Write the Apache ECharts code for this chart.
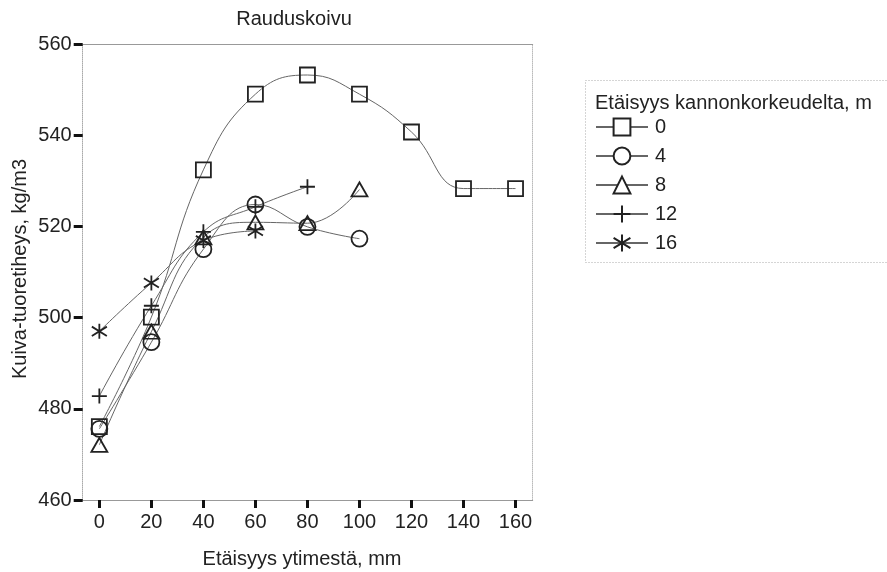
<!DOCTYPE html>
<html>
<head>
<meta charset="utf-8">
<script src="https://cdn.jsdelivr.net/npm/echarts@6/dist/echarts.min.js"></script>
<style>
html,body{margin:0;padding:0;background:#fff;}
#chart{width:887px;height:572px;}
</style>
</head>
<body>
<div id="chart"></div>
<script>
// ---- data ----
const titleText = 'Rauduskoivu';
const xAxisName = 'Etäisyys ytimestä, mm';
const yAxisName = 'Kuiva-tuoretiheys, kg/m3';
const legendTitle = 'Etäisyys kannonkorkeudelta, m';
const xTicks = [0, 20, 40, 60, 80, 100, 120, 140, 160];
const yTicks = [460, 480, 500, 520, 540, 560];
const seriesNames = ['0', '4', '8', '12', '16'];
const xPos = [0, 20, 40, 60, 80, 100, 120, 140, 160];
const h0 = [476.1, 500.1, 532.4, 549.0, 553.2, 549.0, 540.7, 528.3, 528.3];
const h4 = [475.6, 494.6, 515.0, 524.8, 519.9, 517.3];
const h8 = [472.1, 496.9, 517.6, 520.9, 520.7, 528.1];
const h12 = [482.8, 502.6, 518.8, 524.3, 528.7];
const h16 = [497.0, 507.6, 516.9, 519.0];

const values = [h0, h4, h8, h12, h16];
const FONT = '"Liberation Sans", Arial, sans-serif';
const symbols = [
  'rect',
  'circle',
  'triangle',
  'path://M5,0L5,10M0,5L10,5',
  'path://M5,0L5,10M0.6,1.9L9.4,8.1M0.6,8.1L9.4,1.9'
];
const symSizes = [15, 16, [16, 14], 15, 15];

const chart = echarts.init(document.getElementById('chart'), null, {renderer: 'canvas'});

const series = values.map((vals, i) => ({
  name: seriesNames[i],
  type: 'line',
  smooth: 0.45,
  data: vals.map((v, j) => [xPos[j], v]),
  symbol: symbols[i],
  symbolSize: symSizes[i],
  showAllSymbol: true,
  lineStyle: {color: '#666', width: 1},
  itemStyle: {color: 'rgba(0,0,0,0)', borderColor: '#222', borderWidth: 1.8},
  emphasis: {disabled: true},
  z: 3
}));

chart.setOption({
  animation: false,
  backgroundColor: '#fff',
  textStyle: {fontFamily: FONT},
  grid: {left: 82.7, top: 44, right: 354.3, bottom: 72, containLabel: false},
  xAxis: [{
    type: 'value',
    min: -6.4,
    max: 166.6,
    position: 'bottom',
    axisLine: {show: true, onZero: false, lineStyle: {color: '#999', width: 1}},
    axisTick: {show: true, customValues: xTicks, length: 8, inside: false, lineStyle: {color: '#111', width: 3}},
    axisLabel: {customValues: xTicks, margin: 12, color: '#222', fontSize: 20, fontFamily: FONT},
    splitLine: {show: false}
  }, {
    type: 'value',
    min: -6.4,
    max: 166.6,
    position: 'top',
    axisLine: {show: true, onZero: false, lineStyle: {color: '#999', width: 1}},
    axisTick: {show: false},
    axisLabel: {show: false},
    splitLine: {show: false}
  }],
  yAxis: [{
    type: 'value',
    min: 460,
    max: 560,
    interval: 20,
    position: 'left',
    axisLine: {show: true, onZero: false, lineStyle: {color: '#aaa', width: 1, type: 'dotted'}},
    axisTick: {show: true, length: 9, inside: false, lineStyle: {color: '#111', width: 3}},
    axisLabel: {margin: 11, color: '#222', fontSize: 20, fontFamily: FONT},
    splitLine: {show: false}
  }, {
    type: 'value',
    min: 460,
    max: 560,
    position: 'right',
    axisLine: {show: true, onZero: false, lineStyle: {color: '#bbb', width: 1, type: 'dotted'}},
    axisTick: {show: false},
    axisLabel: {show: false},
    splitLine: {show: false}
  }],
  legend: {
    orient: 'vertical',
    left: 595,
    top: 117,
    padding: 0,
    itemWidth: 52,
    itemHeight: 21,
    itemGap: 9,
    data: seriesNames,
    itemStyle: {color: '#fff'},
    textStyle: {fontSize: 20, color: '#222', fontFamily: FONT, padding: [0, 0, 0, 2]}
  },
  graphic: [
    {type: 'rect', shape: {x: 585.5, y: 80.5, width: 310, height: 182}, style: {fill: 'none', stroke: '#aaa', lineWidth: 1, lineDash: [1, 2]}, z: 1},
    {type: 'text', x: 595, y: 103, style: {text: legendTitle, font: '20px ' + FONT, fill: '#222', textVerticalAlign: 'middle', textAlign: 'left'}},
    {type: 'text', x: 294, y: 19, style: {text: titleText, font: '20px ' + FONT, fill: '#222', textAlign: 'center', textVerticalAlign: 'middle'}},
    {type: 'text', x: 302, y: 559, style: {text: xAxisName, font: '20px ' + FONT, fill: '#222', textAlign: 'center', textVerticalAlign: 'middle'}},
    {type: 'text', x: 20, y: 269, rotation: Math.PI / 2, style: {text: yAxisName, font: '20px ' + FONT, fill: '#222', textAlign: 'center', textVerticalAlign: 'middle'}}
  ],
  series: series
});
</script>
</body>
</html>
